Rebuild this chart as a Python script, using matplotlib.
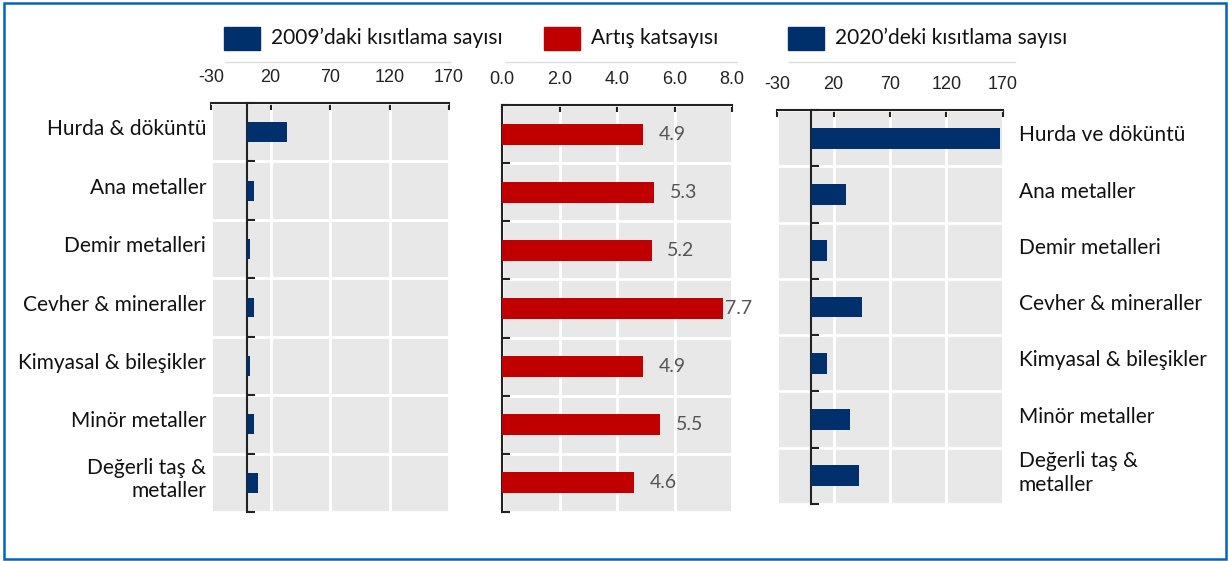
import matplotlib
matplotlib.use('Agg')
import matplotlib.pyplot as plt
from matplotlib.patches import Rectangle
from matplotlib.lines import Line2D
import numpy as np

# categories (top to bottom)
categories_left = ['Hurda & döküntü', 'Ana metaller', 'Demir metalleri',
                   'Cevher & mineraller', 'Kimyasal & bileşikler',
                   'Minör metaller', 'Değerli taş &\nmetaller']
categories_right = ['Hurda ve döküntü', 'Ana metaller', 'Demir metalleri',
                    'Cevher & mineraller', 'Kimyasal & bileşikler',
                    'Minör metaller', 'Değerli taş &\nmetaller']

restr_2009 = [34, 6, 2.7, 5.8, 2.9, 6.3, 9.5]
growth_factor = [4.9, 5.3, 5.2, 7.7, 4.9, 5.5, 4.6]
restr_2020 = [167, 31, 14, 45, 14, 35, 43]

count_ticks = [-30, 20, 70, 120, 170]
factor_ticks = [0.0, 2.0, 4.0, 6.0, 8.0]

legend_labels = ['2009’daki kısıtlama sayısı', 'Artış katsayısı',
                 '2020’deki kısıtlama sayısı']

NAVY = '#00306b'
RED = '#c00000'
BG = '#e8e8e8'

W, H = 1229, 561
fig = plt.figure(figsize=(W / 100, H / 100), dpi=100)

LABEL_FONT = ['Lato', 'DejaVu Sans']
TICK_FONT = ['Liberation Sans Narrow', 'Liberation Sans', 'DejaVu Sans']


def px_axes(l, t, r, b):
    return fig.add_axes([l / W, 1 - b / H, (r - l) / W, (b - t) / H])


def style_panel(ax, ticks, fmt, zero_spine):
    n = len(categories_left)
    ax.set_facecolor(BG)
    ax.set_xlim(ticks[0], ticks[-1])
    ax.set_ylim(n - 0.5, -0.5)
    ax.set_axisbelow(True)
    ax.set_xticks(ticks)
    ax.set_xticklabels([fmt.format(t) for t in ticks], fontfamily=TICK_FONT,
                       fontsize=13, color='#222222')
    ax.xaxis.tick_top()
    ax.tick_params(axis='x', direction='in', length=5, width=1.5, pad=12,
                   color='#222222')
    bounds = np.arange(-0.5, n, 1.0)
    ax.set_yticks(bounds)
    ax.set_yticklabels([])
    ax.tick_params(axis='y', direction='in', length=6, width=1.5,
                   color='#222222')
    ax.grid(True, color='white', linewidth=2)
    for s in ['right', 'bottom']:
        ax.spines[s].set_visible(False)
    ax.spines['top'].set_linewidth(1.5)
    ax.spines['top'].set_color('#222222')
    ax.spines['left'].set_linewidth(1.5)
    ax.spines['left'].set_color('#222222')
    ax.spines['left'].set_position(('data', zero_spine))


ypos = np.arange(len(categories_left))

# left panel: 2009 counts
ax1 = px_axes(211, 103, 449, 512)
style_panel(ax1, count_ticks, '{:g}', 0)
ax1.barh(ypos, restr_2009, height=0.34, color=NAVY, zorder=3)
for y, lab in zip(ypos, categories_left):
    ax1.text(-0.02, y - 0.05, lab, transform=ax1.get_yaxis_transform(),
             ha='right', va='center', fontsize=15, fontfamily=LABEL_FONT,
             color='#111111', linespacing=1.2)

# middle panel: growth factor
ax2 = px_axes(502, 105, 732, 512)
style_panel(ax2, factor_ticks, '{:.1f}', 0)
ax2.barh(ypos, growth_factor, height=0.36, color=RED, zorder=3)
for y, v in zip(ypos, growth_factor):
    ax2.text(min(v + 0.55, 7.76), y, '{:.1f}'.format(v), ha='left',
             va='center', fontsize=14, fontfamily=LABEL_FONT,
             color='#555555', zorder=4)

# right panel: 2020 counts
ax3 = px_axes(777, 110, 1003, 504)
style_panel(ax3, count_ticks, '{:g}', 0)
ax3.barh(ypos, restr_2020, height=0.37, color=NAVY, zorder=3)
for y, lab in zip(ypos, categories_right):
    ax3.text(1.07, y - 0.05, lab, transform=ax3.get_yaxis_transform(),
             ha='left', va='center', fontsize=15, fontfamily=LABEL_FONT,
             color='#111111', linespacing=1.2)

# legend row
sq_x = [224, 544, 788]
sq_colors = [NAVY, RED, NAVY]
for x, c, lab in zip(sq_x, sq_colors, legend_labels):
    fig.patches.append(Rectangle((x / W, 1 - 50 / H), 36 / W, 23 / H,
                                 transform=fig.transFigure, color=c))
    fig.text((x + 47) / W, 1 - 38 / H, lab, ha='left', va='center',
             fontsize=15, fontfamily=LABEL_FONT, color='#111111')

# thin separators under the legend
for l, r in [(225, 450), (505, 737), (789, 1015)]:
    fig.lines.append(Line2D([l / W, r / W], [1 - 62 / H, 1 - 62 / H],
                            transform=fig.transFigure, color='#dddddd',
                            linewidth=1))

# outer frame
fig.patches.append(Rectangle((4 / W, 2 / H), 1222 / W, 556 / H,
                             transform=fig.transFigure, fill=False,
                             edgecolor='#0563c1', linewidth=1.8))

fig.savefig('out.png', dpi=100)
